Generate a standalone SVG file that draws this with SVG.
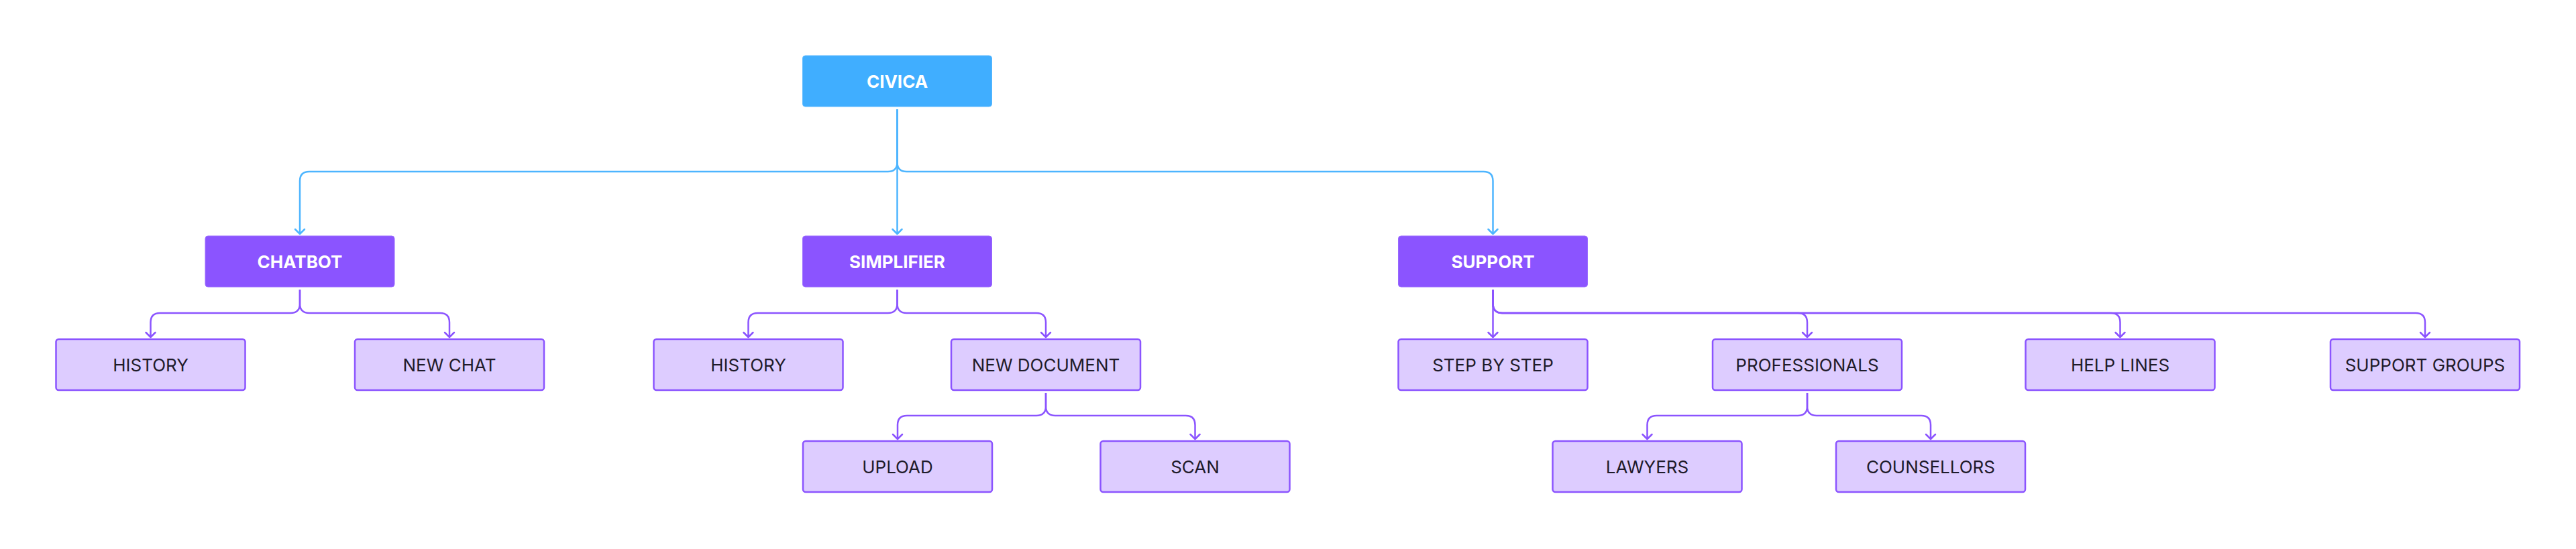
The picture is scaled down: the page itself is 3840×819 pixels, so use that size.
<svg xmlns="http://www.w3.org/2000/svg" width="3840" height="819" viewBox="0 0 3840 819">
<style>
.root rect{fill:#40AEFF;stroke:#5BB9FF;stroke-width:1}
.mid rect{fill:#8B54FF;stroke:#9A6BFF;stroke-width:1}
.leaf rect{fill:#DDCCFF;stroke:#8B54FF;stroke-width:2.5}
text{font-family:Inter,"Liberation Sans",sans-serif;font-size:26px;text-anchor:middle;dominant-baseline:central}
.root text,.mid text{fill:#FFFFFF;font-weight:700}
.leaf text{fill:#1F1B2A;font-weight:400}
.cb{fill:none;stroke:#4DB5FF;stroke-width:2.5}
.cp{fill:none;stroke:#8B54FF;stroke-width:2.5}
</style>
<defs>
<marker id="ab" markerUnits="userSpaceOnUse" markerWidth="20" markerHeight="20" refX="0" refY="0" orient="auto" overflow="visible" viewBox="-10 -10 20 20">
<path d="M-7,-7 L0,0 L-7,7" fill="none" stroke="#4DB5FF" stroke-width="2.5" stroke-linecap="round" stroke-linejoin="round"/>
</marker>
<marker id="ap" markerUnits="userSpaceOnUse" markerWidth="20" markerHeight="20" refX="0" refY="0" orient="auto" overflow="visible" viewBox="-10 -10 20 20">
<path d="M-7,-7 L0,0 L-7,7" fill="none" stroke="#8B54FF" stroke-width="2.5" stroke-linecap="round" stroke-linejoin="round"/>
</marker>
</defs>
<rect width="3840" height="819" fill="#FFFFFF"/>
<g id="connectors">
<path class="cb" marker-end="url(#ab)" d="M1337.5,163 V242 Q1337.5,256 1323.5,256 H461 Q447,256 447,270 V349"/>
<path class="cb" marker-end="url(#ab)" d="M1337.5,163 V349"/>
<path class="cb" marker-end="url(#ab)" d="M1337.5,163 V242 Q1337.5,256 1351.5,256 H2211.5 Q2225.5,256 2225.5,270 V349"/>
<path class="cp" marker-end="url(#ap)" d="M447,432 V453 Q447,467 433,467 H238.5 Q224.5,467 224.5,481 V503"/>
<path class="cp" marker-end="url(#ap)" d="M447,432 V453 Q447,467 461,467 H656 Q670,467 670,481 V503"/>
<path class="cp" marker-end="url(#ap)" d="M1337.5,432 V453 Q1337.5,467 1323.5,467 H1129.5 Q1115.5,467 1115.5,481 V503"/>
<path class="cp" marker-end="url(#ap)" d="M1337.5,432 V453 Q1337.5,467 1351.5,467 H1545 Q1559,467 1559,481 V503"/>
<path class="cp" marker-end="url(#ap)" d="M2225.5,432 V503"/>
<path class="cp" marker-end="url(#ap)" d="M2225.5,432 V453 Q2225.5,467 2239.5,467 H2680 Q2694,467 2694,481 V503"/>
<path class="cp" marker-end="url(#ap)" d="M2225.5,432 V453 Q2225.5,467 2239.5,467 H3146.5 Q3160.5,467 3160.5,481 V503"/>
<path class="cp" marker-end="url(#ap)" d="M2225.5,432 V453 Q2225.5,467 2239.5,467 H3601 Q3615,467 3615,481 V503"/>
<path class="cp" marker-end="url(#ap)" d="M1559,586 V606 Q1559,620 1545,620 H1352 Q1338,620 1338,634 V655"/>
<path class="cp" marker-end="url(#ap)" d="M1559,586 V606 Q1559,620 1573,620 H1767.5 Q1781.5,620 1781.5,634 V655"/>
<path class="cp" marker-end="url(#ap)" d="M2694,586 V606 Q2694,620 2680,620 H2469.5 Q2455.5,620 2455.5,634 V655"/>
<path class="cp" marker-end="url(#ap)" d="M2694,586 V606 Q2694,620 2708,620 H2864 Q2878,620 2878,634 V655"/>
</g>
<g id="civica" class="root"><rect x="1196.5" y="83" width="282" height="76" rx="4"/><text x="1337.5" y="121">CIVICA</text></g>
<g id="chatbot" class="mid"><rect x="306" y="352" width="282" height="76" rx="4"/><text x="447" y="390">CHATBOT</text></g>
<g id="simplifier" class="mid"><rect x="1196.5" y="352" width="282" height="76" rx="4"/><text x="1337.5" y="390">SIMPLIFIER</text></g>
<g id="support" class="mid"><rect x="2084.5" y="352" width="282" height="76" rx="4"/><text x="2225.5" y="390">SUPPORT</text></g>
<g id="history-chatbot" class="leaf"><rect x="83.5" y="506" width="282" height="76" rx="4"/><text x="224.5" y="544">HISTORY</text></g>
<g id="new-chat" class="leaf"><rect x="529" y="506" width="282" height="76" rx="4"/><text x="670" y="544">NEW CHAT</text></g>
<g id="history-simplifier" class="leaf"><rect x="974.5" y="506" width="282" height="76" rx="4"/><text x="1115.5" y="544">HISTORY</text></g>
<g id="new-document" class="leaf"><rect x="1418" y="506" width="282" height="76" rx="4"/><text x="1559" y="544">NEW DOCUMENT</text></g>
<g id="step-by-step" class="leaf"><rect x="2084.5" y="506" width="282" height="76" rx="4"/><text x="2225.5" y="544">STEP BY STEP</text></g>
<g id="professionals" class="leaf"><rect x="2553" y="506" width="282" height="76" rx="4"/><text x="2694" y="544">PROFESSIONALS</text></g>
<g id="help-lines" class="leaf"><rect x="3019.5" y="506" width="282" height="76" rx="4"/><text x="3160.5" y="544">HELP LINES</text></g>
<g id="support-groups" class="leaf"><rect x="3474" y="506" width="282" height="76" rx="4"/><text x="3615" y="544">SUPPORT GROUPS</text></g>
<g id="upload" class="leaf"><rect x="1197" y="658" width="282" height="76" rx="4"/><text x="1338" y="696">UPLOAD</text></g>
<g id="scan" class="leaf"><rect x="1640.5" y="658" width="282" height="76" rx="4"/><text x="1781.5" y="696">SCAN</text></g>
<g id="lawyers" class="leaf"><rect x="2314.5" y="658" width="282" height="76" rx="4"/><text x="2455.5" y="696">LAWYERS</text></g>
<g id="counsellors" class="leaf"><rect x="2737" y="658" width="282" height="76" rx="4"/><text x="2878" y="696">COUNSELLORS</text></g>
</svg>
